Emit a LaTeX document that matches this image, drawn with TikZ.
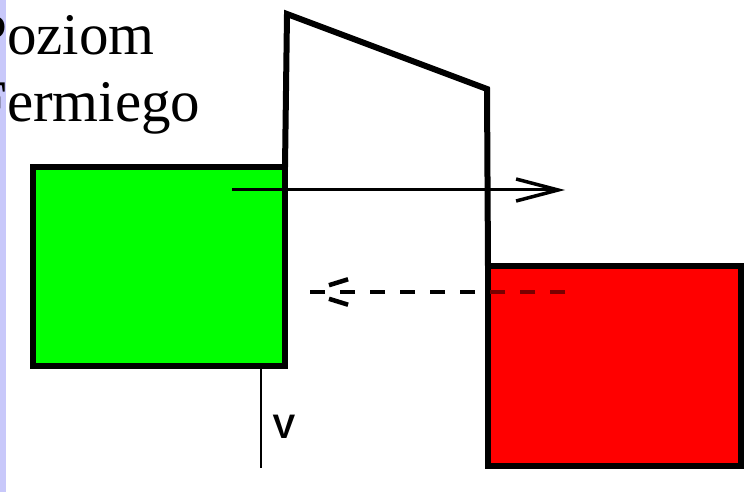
\documentclass[tikz,border=0pt]{standalone}
\usepackage{fontspec}
\setmainfont{Liberation Serif}
\newfontfamily\labelsans{Liberation Sans}
\usetikzlibrary{arrows.meta}
\definecolor{lav}{RGB}{200,200,250}
\definecolor{gfill}{RGB}{0,255,0}
\definecolor{rfill}{RGB}{255,0,0}
\definecolor{darkred}{RGB}{120,0,0}
\tikzset{
  bandbox/.style={draw=black, line width=6bp, outer sep=0pt, inner sep=0pt, line join=miter},
  barrierline/.style={draw=black, line width=6bp, line join=miter},
  flowarrow/.style={draw=black, line width=3bp, -{Straight Barb[length=42bp,width=22bp,line width=3.5bp]}},
  backflow/.style={line width=4bp, dash pattern=on 15bp off 15bp},
  barbdash/.style={line width=4.5bp, dash pattern=on 0bp off 23bp on 20bp off 30bp},
  bigtext/.style={inner sep=0pt, anchor=base west, font=\fontsize{59bp}{67bp}\selectfont},
  vlabel/.style={inner sep=0pt, font=\labelsans\bfseries\fontsize{34bp}{34bp}\selectfont}
}
\begin{document}
\begin{tikzpicture}[x=1bp,y=-1bp]
\useasboundingbox (0,0) rectangle (756,492);
\clip (0,0) rectangle (756,492);
\fill[white] (0,0) rectangle (756,492);
\fill[lav] (0,0) rectangle (6,492);
\node[bigtext] (t1) at (-26,55) {Poziom};
\node[bigtext] (t2) at (-26,122) {Fermiego};
% bands
\node[bandbox, fill=gfill, minimum width=252bp, minimum height=199bp] (green) at (159,266.5) {};
\node[bandbox, fill=rfill, minimum width=253bp, minimum height=199bp] (red) at (614.5,366) {};
% barrier
\coordinate (btop) at (287,14);
\coordinate (bslope) at (487,89);
\draw[barrierline] (green.north east) -- (btop) -- (bslope) -- (red.north west);
% forward arrow
\coordinate (fa) at (232,190);
\coordinate (fb) at (565,190);
\draw[flowarrow] (fa) -- (fb);
% backward dashed arrow
\coordinate (ba) at (565,292);
\coordinate (bb) at (307,292);
\coordinate (bu) at (349,279);
\coordinate (bd) at (349,305);
\draw[backflow] (ba) -- (bb);
\begin{scope}
  \clip (red.north west) rectangle (red.south east);
  \draw[backflow, darkred] (ba) -- (bb);
\end{scope}
\draw[barbdash] (bb) -- (bu);
\draw[barbdash] (bb) -- (bd);
% voltage marker
\coordinate (v1) at (261,368);
\coordinate (v2) at (261,468);
\draw[line width=1.5bp] (v1) -- (v2);
\node[vlabel] (vl) at (284,427) {V};
\end{tikzpicture}
\end{document}
